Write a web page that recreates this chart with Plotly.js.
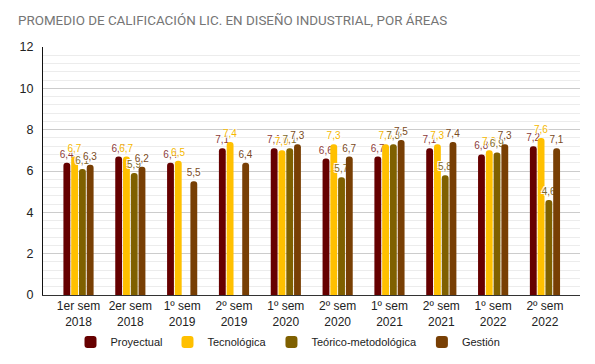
<!DOCTYPE html>
<html><head><meta charset="utf-8">
<script src="https://cdn.plot.ly/plotly-3.0.1.min.js"></script>
<style>html,body{margin:0;padding:0;background:#fff}#c{width:595px;height:364px}</style>
</head><body><div id="c"></div>
<script>
const categories = ["1er sem<br>2018","2er sem<br>2018","1º sem<br>2019","2º sem<br>2019","1º sem<br>2020","2º sem<br>2020","1º sem<br>2021","2º sem<br>2021","1º sem<br>2022","2º sem<br>2022"];
const proyectual = [6.4, 6.7, 6.4, 7.1, 7.1, 6.6, 6.7, 7.1, 6.8, 7.2];
const tecnologica = [6.7, 6.7, 6.5, 7.4, 7.0, 7.3, 7.3, 7.3, 7.0, 7.6];
const teorico = [6.1, 5.9, null, null, 7.1, 5.7, 7.3, 5.8, 6.9, 4.6];
const gestion = [6.3, 6.2, 5.5, 6.4, 7.3, 6.7, 7.5, 7.4, 7.3, 7.1];
const names = ["Proyectual","Tecnológica","Teórico-metodológica","Gestión"];
const colors = ["#660000","#ffc000","#7f6000","#783f04"];
const labelColors = ["#8c3b3b","#f5b800","#7f6a2a","#7a4a22"];
const series = [proyectual, tecnologica, teorico, gestion];
const fmt = v => v == null ? "" : v.toFixed(1).replace(".", ",");
const halo = "-1px -1px 0 #fff, 1px -1px 0 #fff, -1px 1px 0 #fff, 1px 1px 0 #fff";
const traces = series.map((vals, i) => ({
  type: "bar", name: names[i], x: categories, y: vals,
  text: vals.map(fmt), textposition: "outside", cliponaxis: false, constraintext: "none",
  textfont: {family: "Liberation Sans, Arial", size: 10, color: labelColors[i], shadow: halo},
  marker: {color: colors[i], cornerradius: 3},
  hoverinfo: "none"
}));
const layout = {
  width: 595, height: 364,
  margin: {l: 43, r: 15, t: 47, b: 69},
  paper_bgcolor: "#fff", plot_bgcolor: "#fff",
  title: {text: "PROMEDIO DE CALIFICACIÓN LIC. EN DISEÑO INDUSTRIAL, POR ÁREAS", x: 18/595, xref: "container", xanchor: "left", yref: "container", y: 1 - 20/364, yanchor: "middle",
    font: {family: "Roboto, Liberation Sans, Arial", size: 13.4, color: "#757575"}},
  barmode: "group", bargap: 0.40, bargroupgap: 0.12,
  showlegend: true,
  legend: {orientation: "h", xref: "container", x: 288/595, xanchor: "center", yref: "container", y: 1 - 342/364, yanchor: "middle",
    font: {family: "Liberation Sans, Arial", size: 11, color: "#222"}, itemwidth: 30, traceorder: "normal"},
  xaxis: {type: "category", range: [-0.685, 9.676], showline: true, linecolor: "#333", linewidth: 1, ticks: "",
    tickfont: {family: "Liberation Sans, Arial", size: 12, color: "#222"}, fixedrange: true},
  yaxis: {range: [0, 12], dtick: 2, showgrid: true, gridcolor: "#cccccc", zeroline: false,
    showline: true, linecolor: "#111", linewidth: 1,
    tickfont: {family: "Liberation Sans, Arial", size: 12.5, color: "#222"}, ticks: "", ticklabelstandoff: 6,
    minor: {dtick: 0.4, showgrid: true, gridcolor: "#ececec"}}
};
Plotly.newPlot("c", traces, layout, {staticPlot: true, displayModeBar: false});
</script></body></html>
